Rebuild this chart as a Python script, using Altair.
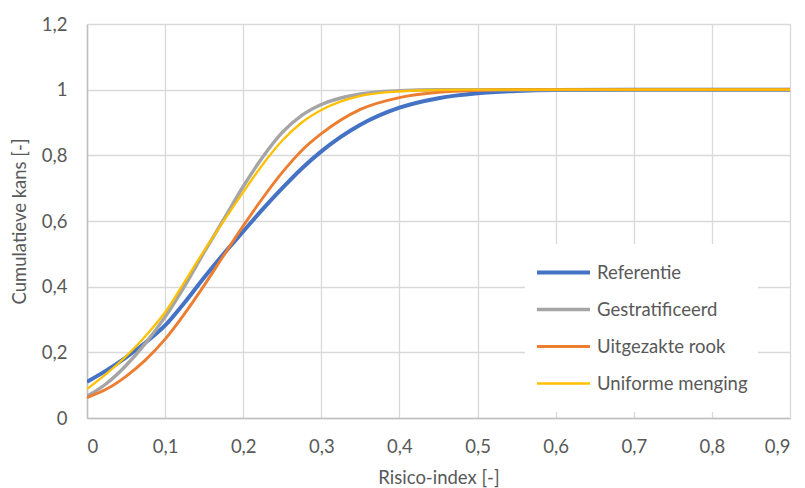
import altair as alt
import pandas as pd

# Risk index grid and cumulative probability per scenario
risk_index = [0.0, 0.025, 0.05, 0.075, 0.1, 0.125, 0.15, 0.175, 0.2, 0.225, 0.25, 0.275,
              0.3, 0.35, 0.4, 0.45, 0.5, 0.55, 0.6, 0.7, 0.8, 0.9]
referentie = [0.110, 0.145, 0.185, 0.230, 0.282, 0.352, 0.428, 0.500, 0.568, 0.636, 0.700, 0.760,
              0.812, 0.893, 0.945, 0.974, 0.989, 0.996, 0.999, 1.0, 1.0, 1.0]
gestratificeerd = [0.066, 0.105, 0.160, 0.228, 0.308, 0.402, 0.505, 0.605, 0.705, 0.795, 0.870, 0.922,
                   0.955, 0.987, 0.997, 1.0, 1.0, 1.0, 1.0, 1.0, 1.0, 1.0]
uitgezakte_rook = [0.062, 0.088, 0.127, 0.177, 0.240, 0.318, 0.404, 0.495, 0.585, 0.670, 0.748, 0.815,
                   0.866, 0.940, 0.976, 0.992, 0.998, 1.0, 1.0, 1.0, 1.0, 1.0]
uniforme_menging = [0.088, 0.135, 0.188, 0.250, 0.322, 0.415, 0.510, 0.600, 0.688, 0.772, 0.845, 0.900,
                    0.938, 0.981, 0.995, 0.999, 1.0, 1.0, 1.0, 1.0, 1.0, 1.0]

series_names = ["Referentie", "Gestratificeerd", "Uitgezakte rook", "Uniforme menging"]
series_colors = ["#4472C4", "#A5A5A5", "#ED7D31", "#FFC000"]
series_widths = [4, 2.3, 2.3, 2.3]

rows = []
for name, values in zip(series_names,
                        [referentie, gestratificeerd, uitgezakte_rook, uniforme_menging]):
    for x, y in zip(risk_index, values):
        rows.append({"risico": x, "kans": y, "scenario": name})
df = pd.DataFrame(rows)

FONT = "Lato"
TEXT = "#595959"
FS = 18.5
comma = "replace(format(datum.value, '~g'), '.', ',')"

legend = alt.Legend(title=None, orient="none", legendX=438, legendY=220,
                    symbolType="stroke", symbolSize=2809,
                    clipHeight=37, rowPadding=0,
                    labelOffset=5, padding=10, fillColor="white",
                    labelFontSize=FS, labelColor=TEXT, labelFont=FONT)

chart = alt.Chart(df).mark_line(interpolate="monotone", clip=True).encode(
    x=alt.X("risico:Q",
            scale=alt.Scale(domain=[0, 0.9], nice=False),
            axis=alt.Axis(title="Risico-index [-]", values=[i / 10 for i in range(10)],
                          labelExpr=comma, tickSize=0, labelPadding=19,
                          titlePadding=13)),
    y=alt.Y("kans:Q",
            scale=alt.Scale(domain=[0, 1.2], nice=False),
            axis=alt.Axis(title="Cumulatieve kans [-]", values=[0, 0.2, 0.4, 0.6, 0.8, 1.0, 1.2],
                          labelExpr=comma, tickSize=0, labelPadding=20,
                          titlePadding=12)),
    color=alt.Color("scenario:N",
                    scale=alt.Scale(domain=series_names, range=series_colors),
                    sort=series_names, legend=legend),
    strokeWidth=alt.StrokeWidth("scenario:N",
                                scale=alt.Scale(domain=series_names, range=series_widths),
                                sort=series_names, legend=legend),
    order=alt.Order("scenario:N"),
).properties(
    width=703,
    height=394,
    autosize=alt.AutoSizeParams(type="none"),
    padding={"left": 87, "top": 24, "right": 15, "bottom": 70},
).configure_view(
    stroke=None
).configure_axis(
    gridColor="#D9D9D9",
    gridWidth=1.3,
    domainColor="#BFBFBF",
    domainWidth=1.5,
    labelFont=FONT,
    labelFontSize=FS,
    labelColor=TEXT,
    titleFont=FONT,
    titleFontSize=FS,
    titleFontWeight="normal",
    titleColor=TEXT,
)

chart.save("out.html", embed_options={"renderer": "svg", "actions": False})
